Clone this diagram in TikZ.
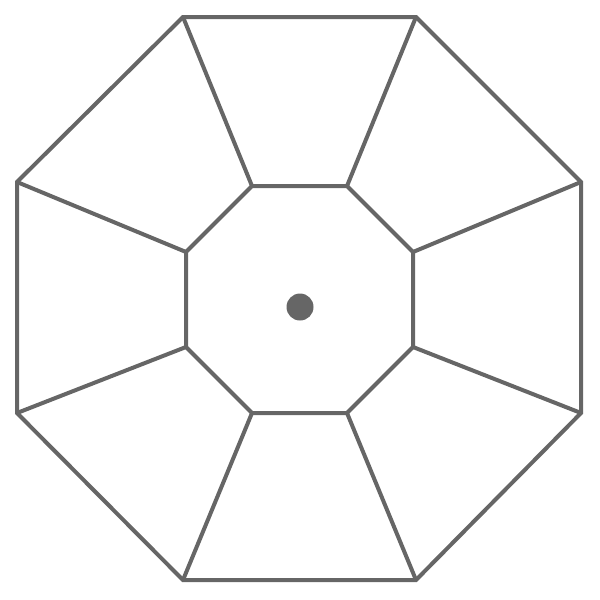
\documentclass[tikz,border=0pt]{standalone}
\usepackage{tikz}

\begin{document}
\begin{tikzpicture}[x=1pt, y=-1pt, edge/.style={draw=umb, line width=4pt, line join=miter}, hub/.style={circle, fill=umb, inner sep=0pt, minimum size=27pt}]
            \definecolor{umb}{HTML}{666666}
            \useasboundingbox (0,0) rectangle (600,600);
            % outer corners
            \coordinate (o1) at (183,17);
            \coordinate (o2) at (416,17);
            \coordinate (o3) at (581,182);
            \coordinate (o4) at (581,413);
            \coordinate (o5) at (416,580);
            \coordinate (o6) at (183,580);
            \coordinate (o7) at (17,413);
            \coordinate (o8) at (17,182);
            % inner corners
            \coordinate (i1) at (252,186);
            \coordinate (i2) at (347,186);
            \coordinate (i3) at (413,252);
            \coordinate (i4) at (413,347);
            \coordinate (i5) at (347,413);
            \coordinate (i6) at (252,413);
            \coordinate (i7) at (186,347);
            \coordinate (i8) at (186,252);
            % centre
            \node[hub] (pole) at (300,307) {};
            % rims
            \draw [edge] (o1) -- (o2) -- (o3) -- (o4) -- (o5) -- (o6) -- (o7) -- (o8) -- cycle;
            \draw [edge] (i1) -- (i2) -- (i3) -- (i4) -- (i5) -- (i6) -- (i7) -- (i8) -- cycle;
            % ribs
            \draw [edge] (o1) -- (i1);
            \draw [edge] (o2) -- (i2);
            \draw [edge] (o3) -- (i3);
            \draw [edge] (o4) -- (i4);
            \draw [edge] (o5) -- (i5);
            \draw [edge] (o6) -- (i6);
            \draw [edge] (o7) -- (i7);
            \draw [edge] (o8) -- (i8);
        \end{tikzpicture}
\end{document}
